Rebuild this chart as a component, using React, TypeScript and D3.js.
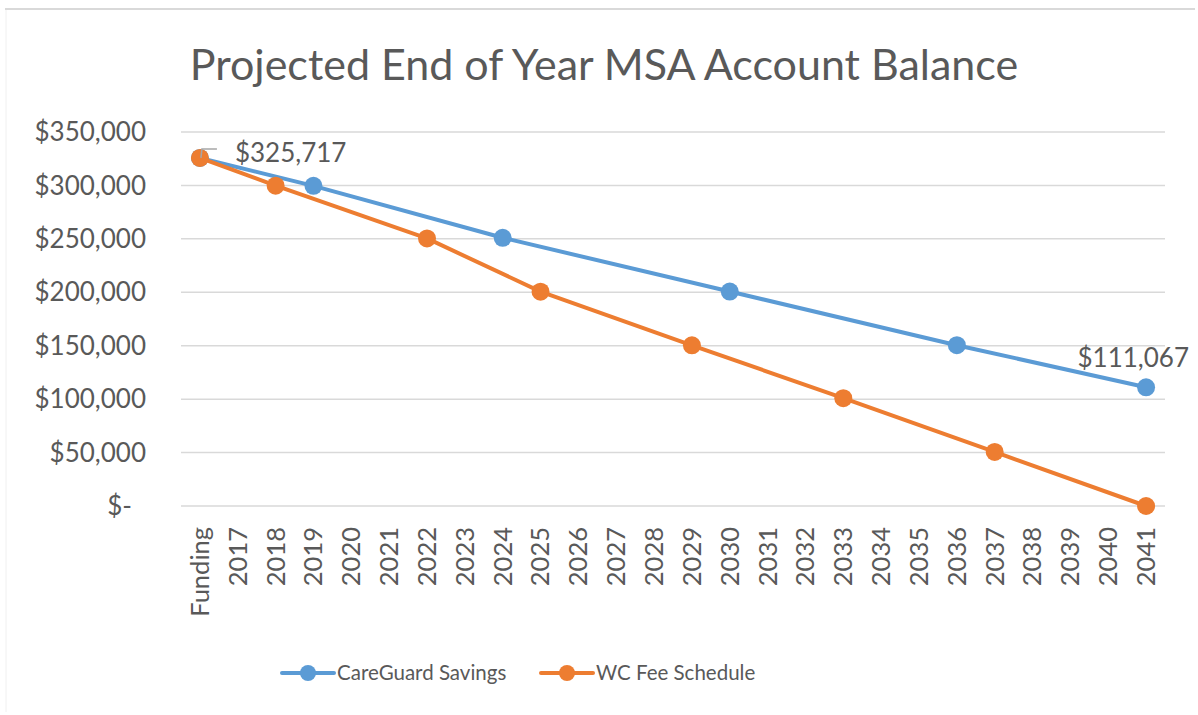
import { useEffect, useRef } from "react";
import * as d3 from "d3";

const categories = [
  "Funding", "2017", "2018", "2019", "2020", "2021", "2022", "2023", "2024",
  "2025", "2026", "2027", "2028", "2029", "2030", "2031", "2032", "2033",
  "2034", "2035", "2036", "2037", "2038", "2039", "2040", "2041",
];

// CareGuard Savings - points where the balance crosses each $50k step
const careGuardYears = ["Funding", "2019", "2024", "2030", "2036", "2041"];
const careGuardValues = [325717, 299600, 251000, 200700, 150500, 111067];

// WC Fee Schedule
const wcYears = ["Funding", "2018", "2022", "2025", "2029", "2033", "2037", "2041"];
const wcValues = [325717, 299800, 250400, 200600, 150400, 100900, 50600, 0];

const yTicks = [0, 50000, 100000, 150000, 200000, 250000, 300000, 350000];

const seriesNames = ["CareGuard Savings", "WC Fee Schedule"];
const BLUE = "#5B9BD5";
const ORANGE = "#ED7D31";
const TEXT = "#595959";
const FONT = "Lato, 'Open Sans', sans-serif";

export default function App() {
  const ref = useRef<SVGSVGElement>(null);

  useEffect(() => {
    if (!ref.current) return;
    const svg = d3.select(ref.current);
    svg.selectAll("*").remove();

    const width = 1198;
    const height = 715;
    const plot = { left: 181, right: 1165, top: 132, bottom: 506 };

    // frame bits
    svg.append("rect").attr("width", width).attr("height", height).attr("fill", "white");
    svg.append("line")
      .attr("x1", 5).attr("x2", 1195).attr("y1", 9).attr("y2", 9)
      .attr("stroke", "#d9d9d9").attr("stroke-width", 2);
    svg.append("line")
      .attr("x1", 6).attr("x2", 6).attr("y1", 10).attr("y2", 712)
      .attr("stroke", "#f0f0f0").attr("stroke-width", 1);

    // title
    svg.append("text")
      .attr("x", 604).attr("y", 80)
      .attr("text-anchor", "middle")
      .attr("font-family", FONT).attr("font-size", 43)
      .attr("fill", TEXT)
      .text("Projected End of Year MSA Account Balance");

    const x = d3.scaleBand().domain(categories).range([plot.left, plot.right]);
    const y = d3.scaleLinear().domain([0, 350000]).range([plot.bottom, plot.top]);
    const cx = (c: string) => (x(c) ?? 0) + x.bandwidth() / 2;

    // gridlines
    svg.append("g")
      .selectAll("line")
      .data(yTicks)
      .join("line")
      .attr("x1", plot.left).attr("x2", plot.right)
      .attr("y1", (d) => y(d)).attr("y2", (d) => y(d))
      .attr("stroke", "#d9d9d9").attr("stroke-width", 1.5);

    // y labels
    const fmt = d3.format(",");
    svg.append("g")
      .selectAll("text")
      .data(yTicks)
      .join("text")
      .attr("x", (d) => (d === 0 ? 132 : 146))
      .attr("y", (d) => y(d))
      .attr("dy", "0.35em")
      .attr("text-anchor", "end")
      .attr("font-family", FONT).attr("font-size", 26)
      .attr("fill", TEXT)
      .text((d) => (d === 0 ? "$-" : "$" + fmt(d)));

    // x labels (rotated)
    svg.append("g")
      .selectAll("text")
      .data(categories)
      .join("text")
      .attr("transform", (d) => `translate(${cx(d)},${plot.bottom + 21}) rotate(-90)`)
      .attr("dy", "0.35em")
      .attr("text-anchor", "end")
      .attr("font-family", FONT).attr("font-size", 25.5)
      .attr("fill", TEXT)
      .text((d) => d);

    const line = d3.line<[string, number]>()
      .x((d) => cx(d[0]))
      .y((d) => y(d[1]));

    const blueData = careGuardYears.map((c, i) => [c, careGuardValues[i]] as [string, number]);
    const orangeData = wcYears.map((c, i) => [c, wcValues[i]] as [string, number]);

    const drawSeries = (data: [string, number][], color: string) => {
      svg.append("path")
        .datum(data)
        .attr("d", line)
        .attr("fill", "none")
        .attr("stroke", color)
        .attr("stroke-width", 4)
        .attr("stroke-linejoin", "round");
      svg.append("g")
        .selectAll("circle")
        .data(data)
        .join("circle")
        .attr("cx", (d) => cx(d[0]))
        .attr("cy", (d) => y(d[1]))
        .attr("r", 9)
        .attr("fill", color);
    };
    drawSeries(blueData, BLUE);
    drawSeries(orangeData, ORANGE);

    // data labels
    const first = blueData[0];
    const fx = cx(first[0]);
    const fy = y(first[1]);
    svg.append("polyline")
      .attr("points", `${fx + 1},${fy} ${fx + 2},${fy - 9} ${fx + 17},${fy - 9}`)
      .attr("fill", "none")
      .attr("stroke", "#a6a6a6")
      .attr("stroke-width", 1.5);
    svg.append("text")
      .attr("x", fx + 35).attr("y", fy - 5)
      .attr("dy", "0.35em")
      .attr("font-family", FONT).attr("font-size", 26)
      .attr("fill", TEXT)
      .text("$" + fmt(first[1]));

    const last = blueData[blueData.length - 1];
    svg.append("text")
      .attr("x", 1189).attr("y", y(last[1]) - 29)
      .attr("dy", "0.35em")
      .attr("text-anchor", "end")
      .attr("font-family", FONT).attr("font-size", 26)
      .attr("fill", TEXT)
      .text("$" + fmt(last[1]));

    // legend
    const legendItems = [
      { name: seriesNames[0], color: BLUE, x0: 282 },
      { name: seriesNames[1], color: ORANGE, x0: 541 },
    ];
    const ly = 673;
    const lg = svg.append("g");
    legendItems.forEach((it) => {
      lg.append("line")
        .attr("x1", it.x0).attr("x2", it.x0 + 52)
        .attr("y1", ly).attr("y2", ly)
        .attr("stroke", it.color).attr("stroke-width", 4)
        .attr("stroke-linecap", "round");
      lg.append("circle")
        .attr("cx", it.x0 + 26).attr("cy", ly).attr("r", 8)
        .attr("fill", it.color);
      lg.append("text")
        .attr("x", it.x0 + 55).attr("y", ly)
        .attr("dy", "0.35em")
        .attr("font-family", FONT).attr("font-size", 20.5)
        .attr("fill", TEXT)
        .text(it.name);
    });
  }, []);

  return (
    <div style={{ position: "absolute", top: 0, left: 0 }}>
      <svg ref={ref} width={1198} height={715} />
    </div>
  );
}
